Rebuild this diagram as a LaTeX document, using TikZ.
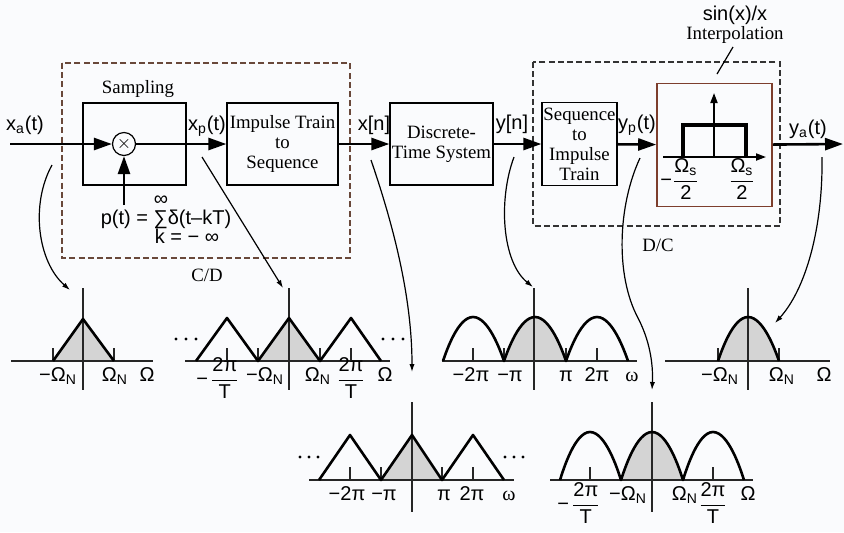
\documentclass[tikz,border=0pt]{standalone}
\usepackage{amsmath}
\usepackage{fontspec}
\setmainfont{Liberation Serif}
\setsansfont{Liberation Sans}
\usetikzlibrary{arrows.meta}

\definecolor{cdbrown}{RGB}{105,72,58}
\definecolor{ipbrown}{RGB}{125,62,45}
\definecolor{specgray}{RGB}{212,212,212}
\definecolor{paperbg}{RGB}{250,251,253}
\newcommand{\fracsf}[2]{\ensuremath{\genfrac{}{}{0.5pt}{0}{\hbox{#1}}{\hbox{#2}}}}
\newcommand{\OmN}{Ω\textsubscript{N}}

\begin{document}
\begin{tikzpicture}[x=0.5pt,y=-0.5pt,
  every node/.style={inner sep=0pt},
  lbl/.style={font=\sffamily\fontsize{10}{11}\selectfont},
  txt/.style={font=\fontsize{9.4}{10}\selectfont, align=center},
  blk/.style={draw, line width=0.6pt, minimum height=41pt, txt},
  sig/.style={line width=1.3pt, -{Triangle[length=9pt,width=6pt]}},
  pointer/.style={line width=0.6pt, -{Latex[length=4pt,width=2.6pt]}},
  axisln/.style={line width=0.6pt, black!85},
  spec/.style={line width=1.3pt, line join=round},
  dashbox/.style={line width=0.6pt, dash pattern=on 3pt off 1.6pt}
]
\fill[paperbg] (0,0) rectangle (844,532);
\useasboundingbox (0,0) rectangle (844,532);

% block diagram
\draw[dashbox, cdbrown] (62,63) rectangle (350,258);
\draw[dashbox, black!80] (533,62) rectangle (780,226);
\node[blk, minimum width=51.5pt] (samp) at (134.5,144) {};
\node[txt, anchor=base] (samptxt) at (138,93) {Sampling};
\node[draw, circle, line width=0.6pt, minimum size=11.5pt, font=\small] (mult) at (124,144) {\(\times\)};
\node[blk, minimum width=55.5pt] (conv) at (282.5,144) {Impulse Train\\to\\Sequence};
\node[blk, minimum width=51.5pt] (dts) at (441.5,144) {Discrete-\\Time System};
\node[blk, minimum width=37.5pt, minimum height=41.5pt] (seq) at (579.5,144) {Sequence\\to\\Impulse\\Train};
\node[draw=ipbrown, line width=0.8pt, minimum width=57.5pt, minimum height=61.5pt] (interp) at (714.5,145) {};
\node[txt, anchor=base] (cdtxt) at (207,281) {C/D};
\node[txt, anchor=base] (dctxt) at (658,251) {D/C};
\node[lbl, anchor=base] (sinc) at (735,20) {sin(x)/x};
\node[txt, anchor=base] (iptxt) at (735,39) {Interpolation};
\coordinate (ptA) at (733,47);
\coordinate (ptB) at (717,74);
\draw[line width=0.6pt] (ptA) -- (ptB);

\coordinate (xin) at (10,144);
\coordinate (yout) at (843,144);
\coordinate (pin) at (124,205);
\draw[sig] (xin) -- (mult);
\draw[sig] (mult) -- (conv);
\draw[sig] (conv) -- (dts);
\draw[sig] (dts) -- (seq);
\draw[sig] (seq) -- (interp);
\draw[sig] (interp) -- (yout);
\draw[sig] (pin) -- (mult);

\node[lbl, anchor=base] (xa) at (25,130) {x\textsubscript{a}(t)};
\node[lbl, anchor=base] (xp) at (207,130) {x\textsubscript{p}(t)};
\node[lbl, anchor=base] (xn) at (374,130) {x[n]};
\node[lbl, anchor=base] (yn) at (512,129) {y[n]};
\node[lbl, anchor=base] (yp) at (637,129) {y\textsubscript{p}(t)};
\node[lbl, anchor=base] (ya) at (808,134) {y\textsubscript{a}(t)};
\node[lbl, anchor=base] (pform) at (166,224) {p(t) = ∑δ(t–kT)};
\node[lbl, anchor=base] (pinf) at (161,205) {∞};
\node[lbl, anchor=base] (pk) at (187,243) {k = − ∞};

% lowpass inside the interpolation box
\draw[line width=0.9pt, -{Triangle[length=5pt,width=3.5pt]}] (663,157) -- (766,157);
\draw[line width=0.9pt, -{Triangle[length=5pt,width=3.5pt]}] (714,157) -- (714,93);
\draw[line width=1.6pt] (683,157) -- (683,125) -- (746,125) -- (746,157);
\node[lbl, anchor=base] (ilo) at (680,186) {−\fracsf{Ω\textsubscript{s}}{2}};
\node[lbl, anchor=base] (ihi) at (742,186) {\fracsf{Ω\textsubscript{s}}{2}};

% spectrum of x_a(t)
\fill[specgray] (53,361) -- (83,319) -- (114,361) -- cycle;
\draw[axisln] (11,361) -- (153,361);
\draw[axisln] (83,288) -- (83,390);
\foreach \t in {53,114} \draw[axisln] (\t,348) -- (\t,361);
\draw[spec] (53,361) -- (83,319) -- (114,361);
\node[lbl, anchor=base] (a1) at (58,381) {−\OmN};
\node[lbl, anchor=base] (a2) at (115,381) {\OmN};
\node[lbl, anchor=base] (a3) at (147,381) {Ω};

% spectrum of x_p(t)
\fill[specgray] (258,361) -- (289,318) -- (320,361) -- cycle;
\draw[axisln] (185,361) -- (390,361);
\draw[axisln] (289,288) -- (289,390);
\foreach \t in {227,258,320,351} \draw[axisln] (\t,348) -- (\t,361);
\draw[spec] (196,361) -- (227,318) -- (258,361) -- (289,318) -- (320,361) -- (351,318) -- (381,361);
\foreach \d in {176,186,196,383,393,403} \fill (\d,339) circle (1.7);
\node[lbl, anchor=base] (b1) at (218,385) {−\hspace{1pt}\fracsf{2π}{T}};
\node[lbl, anchor=base] (b2) at (265,381) {−\OmN};
\node[lbl, anchor=base] (b3) at (318,381) {\OmN};
\node[lbl, anchor=base] (b4) at (351,385) {\fracsf{2π}{T}};
\node[lbl, anchor=base] (b5) at (385,381) {Ω};

% spectrum of x[n]
\fill[specgray] (381,480) -- (412,435) -- (442,480) -- cycle;
\draw[axisln] (309,480) -- (514,480);
\draw[axisln] (412,402) -- (412,512);
\foreach \t in {350,381,442,473} \draw[axisln] (\t,467) -- (\t,480);
\draw[spec] (319,480) -- (350,435) -- (381,480) -- (412,435) -- (442,480) -- (473,435) -- (504,480);
\foreach \d in {300,309,318,505,514,523} \fill (\d,457) circle (1.7);
\node[lbl, anchor=base] (c1) at (347,500) {−2π};
\node[lbl, anchor=base] (c2) at (384,500) {−π};
\node[lbl, anchor=base] (c3) at (444,500) {π};
\node[lbl, anchor=base] (c4) at (472,500) {2π};
\node[lbl, anchor=base] (c5) at (509,500) {\rmfamily ω};

% spectrum of y[n]
\fill[specgray] (504,361) parabola bend (535,317) (566,361) -- cycle;
\draw[axisln] (442,361) -- (637,361);
\draw[axisln] (534,288) -- (534,390);
\foreach \t in {473,504,566,597} \draw[axisln] (\t,348) -- (\t,361);
\draw[spec] (443,361) parabola bend (473,317) (504,361) parabola bend (535,317) (566,361) parabola bend (597,317) (628,361);
\node[lbl, anchor=base] (d1) at (471,381) {−2π};
\node[lbl, anchor=base] (d2) at (510,381) {−π};
\node[lbl, anchor=base] (d3) at (566,381) {π};
\node[lbl, anchor=base] (d4) at (597,381) {2π};
\node[lbl, anchor=base] (d5) at (632,381) {\rmfamily ω};

% spectrum of y_p(t)
\fill[specgray] (621,480) parabola bend (652,432) (683,480) -- cycle;
\draw[axisln] (550,480) -- (753,480);
\draw[axisln] (652,402) -- (652,512);
\foreach \t in {590,713} \draw[axisln] (\t,467) -- (\t,480);
\draw[spec] (560,480) parabola bend (590,432) (621,480) parabola bend (652,432) (683,480) parabola bend (713,432) (744,480);
\node[lbl, anchor=base] (e1) at (579,510) {−\hspace{1pt}\fracsf{2π}{T}};
\node[lbl, anchor=base] (e2) at (628,500) {−\OmN};
\node[lbl, anchor=base] (e3) at (685,500) {\OmN};
\node[lbl, anchor=base] (e4) at (713,510) {\fracsf{2π}{T}};
\node[lbl, anchor=base] (e5) at (748,500) {Ω};

% spectrum of y_a(t)
\fill[specgray] (718,361) parabola bend (748,317) (779,361) -- cycle;
\draw[axisln] (665,361) -- (830,361);
\draw[axisln] (748,288) -- (748,390);
\foreach \t in {718,779} \draw[axisln] (\t,348) -- (\t,361);
\draw[spec] (718,361) parabola bend (748,317) (779,361);
\node[lbl, anchor=base] (f1) at (720,381) {−\OmN};
\node[lbl, anchor=base] (f2) at (782,381) {\OmN};
\node[lbl, anchor=base] (f3) at (824,381) {Ω};

% pointers from the signals to their spectra
\coordinate (sxa) at (52,165);  \coordinate (exa) at (70,290);
\coordinate (sxp) at (202,157); \coordinate (exp) at (283,288);
\coordinate (sxn) at (371,160); \coordinate (exn) at (412,372);
\coordinate (syn) at (514,157); \coordinate (eyn) at (533,287);
\coordinate (syp) at (640,158); \coordinate (eyp) at (652,390);
\coordinate (sya) at (822,157); \coordinate (eya) at (775,323);
\draw[pointer] (sxa) .. controls (30,205) and (38,262) .. (exa);
\draw[pointer] (sxp) -- (exp);
\draw[pointer] (sxn) .. controls (395,230) and (412,300) .. (exn);
\draw[pointer] (syn) .. controls (498,200) and (502,262) .. (eyn);
\draw[pointer] (syp) .. controls (618,205) and (615,275) .. (638,318) .. controls (652,345) and (653,370) .. (eyp);
\draw[pointer] (sya) .. controls (823,230) and (805,290) .. (eya);
\end{tikzpicture}
\end{document}
